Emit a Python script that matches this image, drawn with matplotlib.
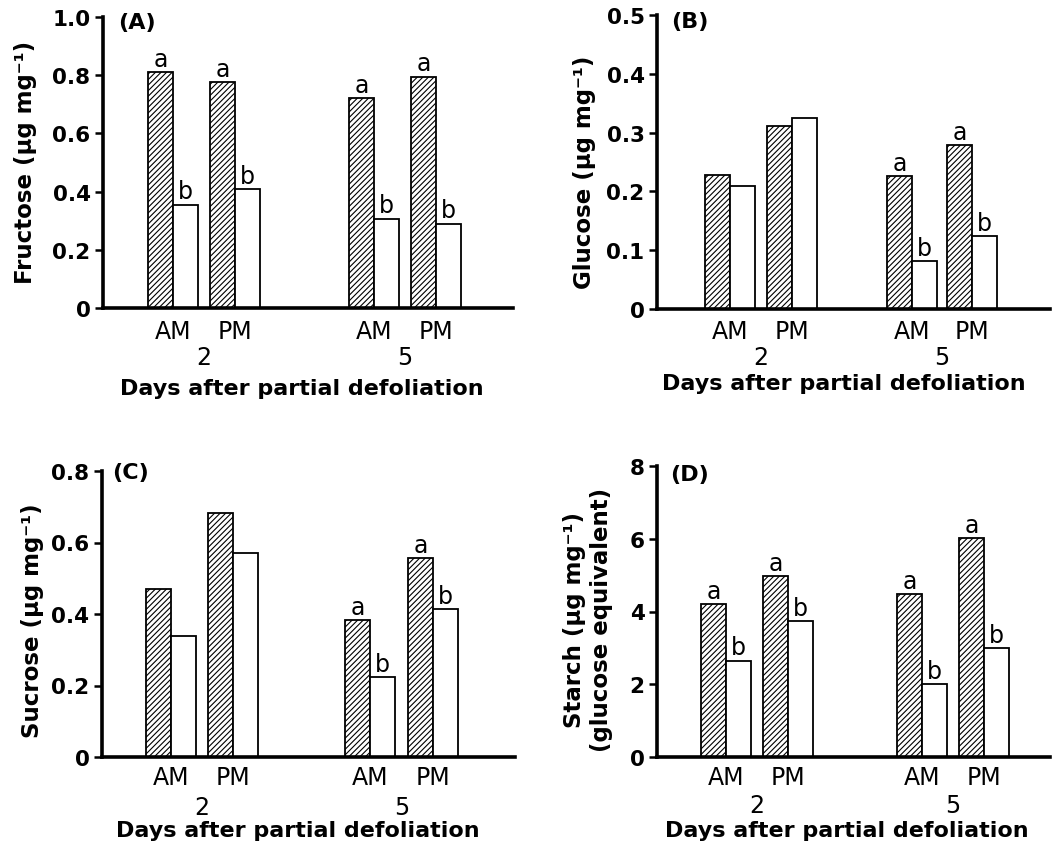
import matplotlib
matplotlib.use("Agg")
import matplotlib.pyplot as plt
from matplotlib.transforms import offset_copy

# ---------------- data ----------------
times = ["AM", "PM", "AM", "PM"]
days = ["2", "5"]
xlabel = "Days after partial defoliation"

fructose_hatched = [0.81, 0.775, 0.72, 0.795]
fructose_open = [0.355, 0.408, 0.307, 0.29]
fructose_letters_h = ["a", "a", "a", "a"]
fructose_letters_o = ["b", "b", "b", "b"]

glucose_hatched = [0.228, 0.311, 0.226, 0.279]
glucose_open = [0.209, 0.325, 0.082, 0.124]
glucose_letters_h = ["", "", "a", "a"]
glucose_letters_o = ["", "", "b", "b"]

sucrose_hatched = [0.47, 0.682, 0.383, 0.557]
sucrose_open = [0.338, 0.571, 0.224, 0.414]
sucrose_letters_h = ["", "", "a", "a"]
sucrose_letters_o = ["", "", "b", "b"]

starch_hatched = [4.2, 4.97, 4.48, 6.02]
starch_open = [2.65, 3.74, 2.0, 2.99]
starch_letters_h = ["a", "a", "a", "a"]
starch_letters_o = ["b", "b", "b", "b"]

yticks_A = [0, 0.2, 0.4, 0.6, 0.8, 1.0]
yticklabels_A = ["0", "0.2", "0.4", "0.6", "0.8", "1.0"]
yticks_B = [0, 0.1, 0.2, 0.3, 0.4, 0.5]
yticklabels_B = ["0", "0.1", "0.2", "0.3", "0.4", "0.5"]
yticks_C = [0, 0.2, 0.4, 0.6, 0.8]
yticklabels_C = ["0", "0.2", "0.4", "0.6", "0.8"]
yticks_D = [0, 2, 4, 6, 8]
yticklabels_D = ["0", "2", "4", "6", "8"]

ylabel_A = "Fructose (µg mg⁻¹)"
ylabel_B = "Glucose (µg mg⁻¹)"
ylabel_C = "Sucrose (µg mg⁻¹)"
ylabel_D = "Starch (µg mg⁻¹)\n(glucose equivalent)"

# ---------------- layout ----------------
W, H = 1054, 845
plt.rcParams["font.family"] = ["DejaVu Sans"]
plt.rcParams["hatch.linewidth"] = 0.8
fig = plt.figure(figsize=(W / 100, H / 100), dpi=100)

def rect(l, r, top, bottom):
    return [l / W, (H - bottom) / H, (r - l) / W, (bottom - top) / H]

panels = [
    dict(rect=rect(103, 513, 18, 309), xlim=(-1.129, 5.484), gap=3.24,
         hv=fructose_hatched, ov=fructose_open, lh=fructose_letters_h, lo=fructose_letters_o,
         ylim=(0, 1.0), yt=yticks_A, ytl=yticklabels_A, ylab=ylabel_A, tag="(A)",
         ylabx=-0.19, ylaby=0.505, tagx=0.037, tagy=0.983, xlabx=0.484,
         offs=(11, 37, 70)),
    dict(rect=rect(657, 1050, 16, 310), xlim=(-1.177, 5.161), gap=2.935, gap2=3.903,
         hv=glucose_hatched, ov=glucose_open, lh=glucose_letters_h, lo=glucose_letters_o,
         ylim=(0, 0.5), yt=yticks_B, ytl=yticklabels_B, ylab=ylabel_B, tag="(B)",
         ylabx=-0.185, ylaby=0.47, tagx=0.036, tagy=0.98, xlabx=0.475,
         offs=(10, 36, 64)),
    dict(rect=rect(102, 515, 472, 758), xlim=(-1.113, 5.548), gap=3.21, gap2=4.226,
         hv=sucrose_hatched, ov=sucrose_open, lh=sucrose_letters_h, lo=sucrose_letters_o,
         ylim=(0, 0.8), yt=yticks_C, ytl=yticklabels_C, ylab=ylabel_C, tag="(C)",
         ylabx=-0.168, ylaby=0.48, tagx=0.024, tagy=0.997, xlabx=0.473,
         offs=(8, 38, 63)),
    dict(rect=rect(657, 1050, 467, 758), xlim=(-1.113, 5.226), gap=3.161,
         hv=starch_hatched, ov=starch_open, lh=starch_letters_h, lo=starch_letters_o,
         ylim=(0, 8), yt=yticks_D, ytl=yticklabels_D, ylab=ylabel_D, tag="(D)",
         ylabx=-0.175, ylaby=0.474, tagx=0.033, tagy=0.973, xlabx=0.483,
         offs=(8, 36, 63)),
]

bw = 0.4
for p in panels:
    ax = fig.add_axes(p["rect"])
    g2 = p.get("gap2", p["gap"] + 1)
    pos = [0, 1, p["gap"], g2]
    hx = [c - bw / 2 for c in pos]
    ox = [c + bw / 2 for c in pos]
    ax.bar(hx, p["hv"], width=bw, facecolor="white", edgecolor="black",
           hatch="//////", linewidth=1.3, zorder=2)
    ax.bar(ox, p["ov"], width=bw, facecolor="white", edgecolor="black",
           linewidth=1.3, zorder=2)
    for x, v, t in zip(hx, p["hv"], p["lh"]):
        if t:
            ax.annotate(t, (x, v), xytext=(0, 4.5), textcoords="offset points",
                        ha="center", va="baseline", fontsize=17)
    for x, v, t in zip(ox, p["ov"], p["lo"]):
        if t:
            ax.annotate(t, (x, v), xytext=(0, 4.5), textcoords="offset points",
                        ha="center", va="baseline", fontsize=17)

    ax.set_xlim(*p["xlim"])
    ax.set_ylim(*p["ylim"])
    ax.set_yticks(p["yt"])
    ax.set_yticklabels(p["ytl"], fontsize=15.5, fontweight="bold")
    ax.set_xticks([])
    for s in ["top", "right"]:
        ax.spines[s].set_visible(False)
    for s in ["left", "bottom"]:
        ax.spines[s].set_linewidth(2.6)
    ax.tick_params(axis="y", direction="out", length=6, width=1.8, pad=3)

    d1, d2, d3 = p["offs"]
    tr1 = offset_copy(ax.get_xaxis_transform(), fig=fig, y=-d1, units="dots")
    tr2 = offset_copy(ax.get_xaxis_transform(), fig=fig, y=-d2, units="dots")
    for c, t in zip(pos, times):
        ax.text(c, 0, t, transform=tr1, ha="center", va="top", fontsize=17)
    ax.text((pos[0] + pos[1]) / 2, 0, days[0], transform=tr2, ha="center", va="top", fontsize=17)
    ax.text((pos[2] + pos[3]) / 2, 0, days[1], transform=tr2, ha="center", va="top", fontsize=17)
    tr3 = offset_copy(ax.transAxes, fig=fig, y=-d3, units="dots")
    ax.text(p["xlabx"], 0, xlabel, transform=tr3, ha="center", va="top",
            fontsize=16, fontweight="bold")

    ax.text(p["ylabx"], p["ylaby"], p["ylab"], transform=ax.transAxes, rotation=90,
            ha="center", va="center", fontsize=16.5, fontweight="bold", multialignment="center")
    ax.text(p["tagx"], p["tagy"], p["tag"], transform=ax.transAxes, ha="left", va="center",
            fontsize=16, fontweight="bold")

fig.savefig("out.png", dpi=100)
